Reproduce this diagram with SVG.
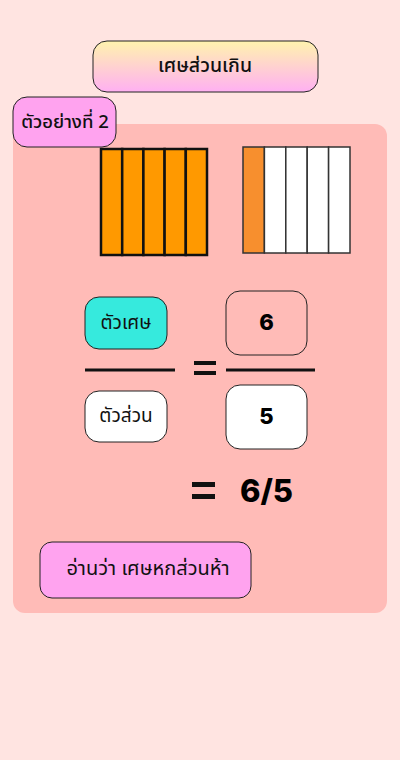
<svg xmlns="http://www.w3.org/2000/svg" width="400" height="760" viewBox="0 0 400 760">
<defs>
<linearGradient id="tg" x1="0" y1="0" x2="0" y2="1">
<stop offset="0" stop-color="#FFF3AE"/>
<stop offset="1" stop-color="#FFB0F2"/>
</linearGradient>
</defs>
<style>
.th{font-family:"Noto Sans Thai","Noto Sans","Liberation Sans",sans-serif;fill:#111;text-anchor:middle;dominant-baseline:central}
.num{font-family:"Inter","DejaVu Sans",sans-serif;font-weight:800;fill:#000;text-anchor:middle;dominant-baseline:central}
.box{stroke:#222;stroke-width:1}
.bar1{fill:#FF9900;stroke:#111;stroke-width:2.5}
.bar2{fill:#fff;stroke:#333;stroke-width:1.5}
.rule{stroke:#111;stroke-width:3}
</style>
<rect width="400" height="760" fill="#FFE4E1"/>
<rect x="13" y="124" width="374" height="489" rx="12" fill="#FFBBB7"/>
<g id="title">
<rect class="box" x="93" y="41" width="225" height="51" rx="14" fill="url(#tg)"/>
<text class="th" x="205" y="66" font-size="19.5" font-weight="500">เศษส่วนเกิน</text>
</g>
<g id="example-label">
<rect class="box" x="13" y="97" width="103" height="50" rx="14" fill="#FFA3EF"/>
<text class="th" x="65" y="122" font-size="18.5" font-weight="500">ตัวอย่างที่ 2</text>
</g>
<g id="bar-whole">
<rect class="bar1" x="101" y="149" width="21.2" height="106"/>
<rect class="bar1" x="122.2" y="149" width="21.2" height="106"/>
<rect class="bar1" x="143.4" y="149" width="21.2" height="106"/>
<rect class="bar1" x="164.6" y="149" width="21.2" height="106"/>
<rect class="bar1" x="185.8" y="149" width="21.2" height="106"/>
</g>
<g id="bar-part">
<rect class="bar2" x="243" y="147" width="21.4" height="106" style="fill:#F78F2E"/>
<rect class="bar2" x="264.4" y="147" width="21.4" height="106"/>
<rect class="bar2" x="285.8" y="147" width="21.4" height="106"/>
<rect class="bar2" x="307.2" y="147" width="21.4" height="106"/>
<rect class="bar2" x="328.6" y="147" width="21.4" height="106"/>
</g>
<g id="numerator-label">
<rect class="box" x="85" y="297" width="82" height="52" rx="14" fill="#36EADD"/>
<text class="th" x="126" y="323" font-size="19">ตัวเศษ</text>
</g>
<g id="denominator-label">
<rect class="box" x="85" y="391" width="82" height="51" rx="14" fill="#fff"/>
<text class="th" x="126" y="416" font-size="19">ตัวส่วน</text>
</g>
<g id="numerator">
<rect class="box" x="226" y="291" width="81" height="64" rx="14" fill="none"/>
<text class="num" x="266.5" y="322" font-size="22">6</text>
</g>
<g id="denominator">
<rect class="box" x="226" y="385" width="81" height="64" rx="14" fill="#fff"/>
<text class="num" x="266.5" y="416" font-size="22">5</text>
</g>
<g id="connectors">
<line class="rule" x1="85" y1="370" x2="175" y2="370"/>
<line class="rule" x1="226" y1="370" x2="315" y2="370"/>
<rect x="194" y="361" width="22" height="4" fill="#111"/>
<rect x="194" y="371" width="22" height="4" fill="#111"/>
<rect x="192" y="482" width="23" height="5" fill="#111"/>
<rect x="192" y="494" width="23" height="5" fill="#111"/>
</g>
<g id="result">
<text class="num" x="266.5" y="490" font-size="31">6/5</text>
</g>
<g id="reading">
<rect class="box" x="40" y="542" width="211" height="56" rx="12" fill="#FFA3EF"/>
<text class="th" x="148" y="569" font-size="20">อ่านว่า เศษหกส่วนห้า</text>
</g>
</svg>
